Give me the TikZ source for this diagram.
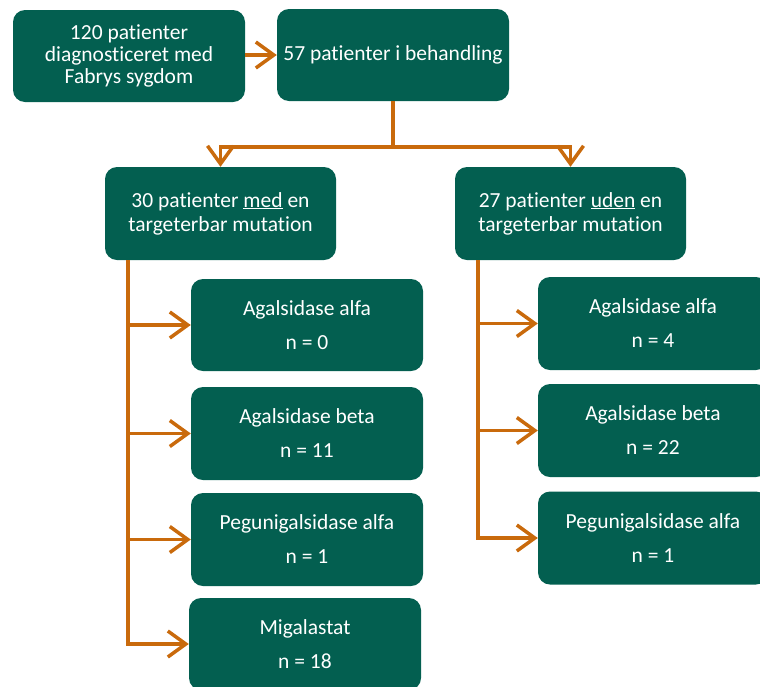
\documentclass[tikz,border=0pt]{standalone}
\usepackage{fontspec}
\setmainfont{Carlito}[RawFeature=-liga]
\usetikzlibrary{arrows.meta}
\definecolor{boxgreen}{RGB}{3,95,80}
\definecolor{arrorange}{RGB}{201,106,12}
\begin{document}
\begin{tikzpicture}[x=1pt,y=-1pt,
  box/.style={fill=boxgreen, rounded corners=12pt, text=white, align=center,
    inner sep=0pt, font=\fontsize{21.5}{22}\selectfont},
  conn/.style={draw=arrorange, line width=3.5pt},
  arr/.style={conn, -{Straight Barb[length=18pt,width=26pt,line width=3.5pt]}}]
\useasboundingbox (0,0) rectangle (760,686);
\node[box, minimum width=232pt, minimum height=92pt] (A) at (129,56) {120 patienter\\diagnosticeret med\\Fabrys sygdom};
\node[box, minimum width=232pt, minimum height=92pt] (B) at (393,55) {57 patienter i behandling};
\node[box, minimum width=231pt, minimum height=93pt] (C) at (220.5,213.5) {30 patienter \underline{med} en\\[2pt]targeterbar mutation};
\node[box, minimum width=231pt, minimum height=93pt] (D) at (570.5,213.5) {27 patienter \underline{uden} en\\[2pt]targeterbar mutation};
\node[box, minimum width=232pt, minimum height=92pt] (E1) at (307,325) {Agalsidase alfa\\[12pt]n = 0};
\node[box, minimum width=232pt, minimum height=93pt] (E2) at (307,433.5) {Agalsidase beta\\[12pt]n = 11};
\node[box, minimum width=232pt, minimum height=93pt] (E3) at (307,539.5) {Pegunigalsidase alfa\\[12pt]n = 1};
\node[box, minimum width=232pt, minimum height=92pt] (E4) at (305,644) {Migalastat\\[12pt]n = 18};
\node[box, minimum width=230pt, minimum height=93pt] (F1) at (653,323.5) {Agalsidase alfa\\[12pt]n = 4};
\node[box, minimum width=230pt, minimum height=93pt] (F2) at (653,430.5) {Agalsidase beta\\[12pt]n = 22};
\node[box, minimum width=230pt, minimum height=93pt] (F3) at (653,538) {Pegunigalsidase alfa\\[12pt]n = 1};
\coordinate (j) at ([yshift=-46pt]B.south);
\coordinate (cl) at ([xshift=23pt]C.south west);
\coordinate (dl) at ([xshift=23pt]D.south west);
\draw[arr] (A.east |- B.west) -- (B.west);
\draw[conn] (B.south) -- (j);
\draw[arr] (j) -| (C.north);
\draw[arr] (j) -| (D.north);
\draw[arr] (cl) |- (E4.west);
\draw[arr] (cl |- E1.west) -- (E1.west);
\draw[arr] (cl |- E2.west) -- (E2.west);
\draw[arr] (cl |- E3.west) -- (E3.west);
\draw[arr] (dl) |- (F3.west);
\draw[arr] (dl |- F1.west) -- (F1.west);
\draw[arr] (dl |- F2.west) -- (F2.west);
\end{tikzpicture}
\end{document}
